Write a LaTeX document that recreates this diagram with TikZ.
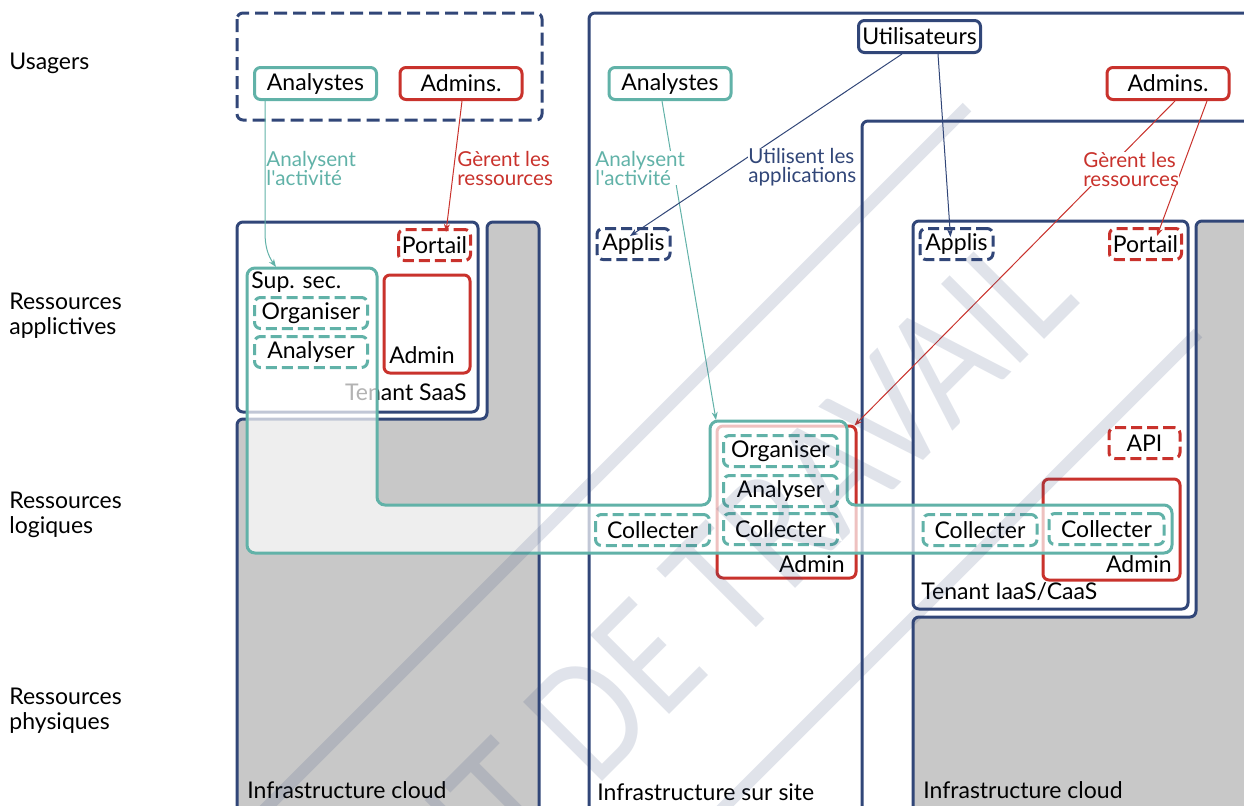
\documentclass[tikz,border=0pt]{standalone}
\usepackage{fontspec}
\usepackage{graphicx}
\setmainfont{Lato}
\usetikzlibrary{arrows.meta}

\definecolor{bleu}{RGB}{49,70,120}
\definecolor{vert}{RGB}{97,178,168}
\definecolor{rouge}{RGB}{201,50,44}
\definecolor{gris}{RGB}{200,200,200}

\tikzset{
  usager/.style={draw=#1, line width=1.5pt, rounded corners=3pt, fill=white,
    minimum width=61pt, minimum height=16pt, inner sep=0pt},
  fonction/.style={draw=#1, line width=1.5pt, rounded corners=3pt, fill=white,
    dash pattern=on 5.5pt off 2.5pt, minimum height=15.5pt, inner sep=0pt},
  admin/.style={draw=rouge, line width=1.5pt, rounded corners=3pt, inner sep=0pt},
  cadre/.style={draw=bleu, line width=1.5pt, rounded corners=3pt},
  lien/.style={draw=#1, line width=0.5pt, -{Stealth[length=4pt,width=3pt]}},
  legende/.style={text=#1, align=left, anchor=west, inner sep=0pt,
    font=\fontsize{10.3}{9.5}\selectfont},
  filigrane/.style={text=bleu, text opacity=0.15, inner sep=0pt,
    font=\fontsize{78}{78}\selectfont}
}

\begin{document}
\begin{tikzpicture}[x=0.5pt, y=-0.5pt, font=\fontsize{11.5}{12.5}\selectfont]
  \useasboundingbox (0,0) rectangle (1244,805);
  \clip (0,0) rectangle (1244,805);

  % niveaux
  \node[anchor=west, align=left, inner sep=0pt] (usagers) at (9,63) {Usagers};
  \node[anchor=west, align=left, inner sep=0pt] (rapp) at (9,316) {Ressources\\applictives};
  \node[anchor=west, align=left, inner sep=0pt] (rlog) at (9,515) {Ressources\\logiques};
  \node[anchor=west, align=left, inner sep=0pt] (rphy) at (9,711) {Ressources\\physiques};

  % infrastructures
  \filldraw[cadre, fill=gris] (237,419) -- (487,419) -- (487,222) -- (539,222)
    -- (539,850) -- (237,850) -- cycle;
  \filldraw[cadre, fill=white] (589,13) rectangle (1300,850);
  \draw[cadre] (862,121) rectangle (1300,850);
  \filldraw[cadre, fill=gris] (913,617) -- (1196,617) -- (1196,221) -- (1300,221)
    -- (1300,850) -- (913,850) -- cycle;
  \node[anchor=south west, inner sep=0pt] (icloud1) at (247,799) {Infrastructure cloud};
  \node[anchor=south west, inner sep=0pt] (isite) at (597,801) {Infrastructure sur site};
  \node[anchor=south west, inner sep=0pt] (icloud2) at (923,799) {Infrastructure cloud};

  % tenants
  \filldraw[cadre, fill=white] (237,222) rectangle (478,412);
  \node[anchor=south east, inner sep=0pt] (tsaas) at (467,401) {Tenant SaaS};
  \filldraw[cadre, fill=white] (913,221) rectangle (1188,609);
  \node[anchor=south west, inner sep=0pt] (tiaas) at (921,601) {Tenant IaaS/CaaS};

  % usagers
  \draw[cadre, dash pattern=on 6.5pt off 3pt] (237,13) rectangle (542,120);

  % admin
  \node[admin, minimum width=43pt, minimum height=49pt] (admsaas) at (427,324) {};
  \node[anchor=south, inner sep=0pt] at (422,364) {Admin};
  \node[admin, minimum width=69.5pt, minimum height=76pt] (admsite) at (786.5,502) {};
  \node[anchor=south east, inner sep=0pt] at (845,573) {Admin};
  \node[admin, minimum width=68.5pt, minimum height=50.5pt] (admiaas) at (1111.5,529.5) {};
  \node[anchor=south east, inner sep=0pt] at (1172,573) {Admin};

  % supervision securite
  \filldraw[draw=vert, line width=1.5pt, fill=white, fill opacity=0.7, rounded corners=4pt]
    (247,268) -- (377,268) -- (377,505) -- (710,505) -- (710,421) -- (847,421)
    -- (847,505) -- (1172,505) -- (1172,553) -- (247,553) -- cycle;
  \coordinate (supsec) at (276,267);
  \coordinate (bosse) at (716,420);
  \node[anchor=west, inner sep=0pt] (supsectxt) at (251,282) {Sup. sec.};

  % fonctions
  \node[fonction=vert, minimum width=56.5pt] (org1) at (311,313) {Organiser};
  \node[fonction=vert, minimum width=56.5pt] (anl1) at (311,352) {Analyser};
  \node[fonction=vert, minimum width=57pt] (org2) at (780.5,451) {Organiser};
  \node[fonction=vert, minimum width=57pt] (anl2) at (780.5,491) {Analyser};
  \node[fonction=vert, minimum width=57pt] (col2) at (780.5,529) {Collecter};
  \node[fonction=vert, minimum width=57pt] (col1) at (652.5,530) {Collecter};
  \node[fonction=vert, minimum width=57pt] (col3) at (980,530) {Collecter};
  \node[fonction=vert, minimum width=57.5pt] (col4) at (1106.5,529) {Collecter};
  \node[fonction=rouge, minimum width=36pt] (port1) at (434.5,245) {Portail};
  \node[fonction=rouge, minimum width=36pt] (port2) at (1145.5,244) {Portail};
  \node[fonction=rouge, minimum width=35.5pt] (api) at (1144.5,443) {API};
  \node[fonction=bleu, minimum width=36.5pt] (apps2) at (633.5,244) {Applis};
  \node[fonction=bleu, minimum width=36.5pt] (apps3) at (956.5,244) {Applis};

  % usagers
  \node[usager=vert] (ana1) at (315.5,83.5) {Analystes};
  \node[usager=rouge] (adm1) at (461,83.5) {Admins.};
  \node[usager=vert] (ana2) at (670,83.5) {Analystes};
  \node[usager=bleu] (util) at (919.5,36.5) {Utilisateurs};
  \node[usager=rouge] (adm2) at (1168,83.5) {Admins.};

  % liens
  \coordinate (coude) at (265,232);
  \draw[lien=vert] (ana1.south -| coude) -- (coude) to[out=-90, in=125] (supsec);
  \node[legende=vert] (l1) at (266,168) {Analysent\\l\textquotesingle activité};
  \draw[lien=rouge] ([xshift=0.5pt]adm1.south) -- ([xshift=5.75pt, yshift=-2pt]port1.north);
  \node[legende=rouge] (l2) at (457,168) {Gèrent les\\ressources};
  \draw[lien=vert] ([xshift=-4pt]ana2.south) -- (bosse);
  \node[legende=vert, fill=white] (l3) at (595,168) {Analysent\\l\textquotesingle activité};
  \draw[lien=bleu] ([xshift=-8.75pt]util.south) -- ([xshift=-1.75pt, yshift=-4.5pt]apps2.north);
  \draw[lien=bleu] ([xshift=9.25pt]util.south) -- ([xshift=-3pt, yshift=-5pt]apps3.north);
  \node[legende=bleu, fill=white] (l4) at (748,167) {Utilisent les\\applications};
  \draw[lien=rouge] ([xshift=19.5pt]adm2.south) -- ([xshift=5.75pt, yshift=-4.5pt]port2.north);
  \draw[lien=rouge] ([xshift=3.5pt]adm2.south) -- ([xshift=-1.5pt, yshift=-0.5pt]admsite.north east);
  \node[legende=rouge, fill=white] (l5) at (1083,169) {Gèrent les\\ressources};

  % filigrane
  \draw[bleu, draw opacity=0.15, line width=6pt] (150,924) -- (967,107);
  \draw[bleu, draw opacity=0.15, line width=6pt] (600,931) -- (1198,333);
  \node[filigrane, rotate=45] (fili) at (530,775) {\scalebox{0.8}[1]{DOCUMENT DE TRAVAIL}};
\end{tikzpicture}
\end{document}
